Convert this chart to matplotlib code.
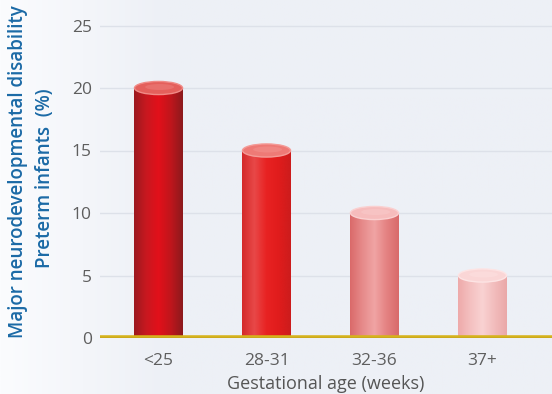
import numpy as np
import matplotlib
matplotlib.use("Agg")
import matplotlib.pyplot as plt
from matplotlib.colors import LinearSegmentedColormap, to_rgb
from matplotlib.patches import Ellipse

categories = ["<25", "28-31", "32-36", "37+"]
values = [20, 15, 10, 5]
yticks = [0, 5, 10, 15, 20, 25]
# side gradients (left edge -> highlight -> right edge) and top colours
side_colors = [
    ["#9c1a1f", "#c81820", "#e2101a", "#c0161c", "#8c1a1d"],
    ["#d42a2a", "#e84848", "#e82222", "#e01c1c", "#cc1c1c"],
    ["#da6a6a", "#e68a8a", "#f0a4a4", "#e48282", "#d86a6a"],
    ["#eeaaaa", "#f4c0c0", "#f9d2d2", "#f2bcbc", "#eaa8a8"],
]
top_colors = ["#e4605c", "#ee7a76", "#f6bcbc", "#fad6d6"]
top_rim = ["#f08a86", "#f49a96", "#fad0d0", "#fde4e4"]

plt.rcParams['font.family'] = ['Open Sans', 'DejaVu Sans']

W, H = 552, 394
fig = plt.figure(figsize=(W / 100, H / 100), dpi=100)
fig.patch.set_facecolor("#eef1f7")

# background gradient (lighter at left)
bg = fig.add_axes([0, 0, 1, 1], zorder=-5)
bg.set_axis_off()
xs = np.linspace(0, 1, 300)
c_left = np.array(to_rgb("#fbfcfe"))
c_right = np.array(to_rgb("#edf0f6"))
t = np.clip(xs / 0.3, 0, 1)[None, :, None]
img = c_left * (1 - t) + c_right * t
bg.imshow(np.repeat(img, 2, axis=0), aspect="auto", extent=[0, 1, 0, 1])
bg.set_xlim(0, 1)
bg.set_ylim(0, 1)

left_px, right_px, bottom_px, top_px = 100, 552, 338, 13
ax = fig.add_axes([left_px / W, (H - bottom_px) / H,
                   (right_px - left_px) / W, (bottom_px - top_px) / H])
ax.set_facecolor("none")
px_per_unit = 12.5
ax.set_ylim(0, (bottom_px - top_px) / px_per_unit)
ax.set_xlim(-0.542, 3.644)

for s in ax.spines.values():
    s.set_visible(False)

for yv in yticks[1:]:
    ax.axhline(yv, color="#dde1e9", lw=1.0, zorder=0)

bar_w = 0.445
ell_h = 1.05
grad = np.linspace(0, 1, 200)[None, :]
for i, (cat, v) in enumerate(zip(categories, values)):
    cmap = LinearSegmentedColormap.from_list(f"c{i}", side_colors[i])
    ax.imshow(grad, cmap=cmap, aspect="auto",
              extent=[i - bar_w / 2, i + bar_w / 2, 0, v], zorder=2,
              interpolation="bilinear")
    ax.add_patch(Ellipse((i, v), bar_w, ell_h, facecolor=top_colors[i],
                         edgecolor=top_rim[i], lw=1.0, zorder=3))
    ax.add_patch(Ellipse((i + 0.01, v + 0.08), bar_w * 0.6, ell_h * 0.45,
                         facecolor=top_rim[i], edgecolor="none", alpha=0.4, zorder=3))

ax.axhline(0, color="#d6b31c", lw=4, zorder=4, solid_capstyle="butt")
ax.axhline(0, color="#a08220", lw=1.0, zorder=5)

ax.set_yticks(yticks)
ax.set_yticklabels([str(y) for y in yticks])
ax.set_xticks(range(len(categories)))
ax.set_xticklabels(categories)
ax.tick_params(axis="both", length=0, labelsize=12.5, labelcolor="#5e5e5e")
ax.tick_params(axis="y", pad=6)
ax.tick_params(axis="x", pad=11)
ax.set_xlabel("Gestational age (weeks)", fontsize=13, color="#555555", labelpad=4)

fig.text(18 / W, 1 - 172 / H, "Major neurodevelopmental disability",
         rotation=90, ha="center", va="center", fontsize=13.5,
         fontweight="semibold", color="#1b6aa6")
fig.text(45 / W, 1 - 178 / H, "Preterm infants  (%)",
         rotation=90, ha="center", va="center", fontsize=13.5,
         fontweight="semibold", color="#1b6aa6")

fig.savefig("out.png", dpi=100)
